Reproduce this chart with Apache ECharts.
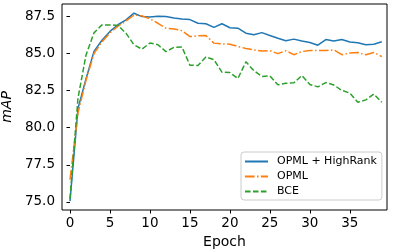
<!DOCTYPE html>
<html>
<head>
<meta charset="utf-8">
<script src="https://cdn.jsdelivr.net/npm/echarts@6/dist/echarts.min.js"></script>
<style>html,body{margin:0;padding:0;background:#fff;}#c{width:393px;height:251px;}</style>
</head>
<body>
<div id="c"></div>
<script>
const epochs = [0,1,2,3,4,5,6,7,8,9,10,11,12,13,14,15,16,17,18,19,20,21,22,23,24,25,26,27,28,29,30,31,32,33,34,35,36,37,38,39];
const highRank = [75.05,81.3,83.3,85.15,85.9,86.5,86.95,87.28,87.73,87.5,87.48,87.52,87.5,87.4,87.34,87.3,87.05,87.02,86.77,87.02,86.75,86.72,86.38,86.27,86.42,86.22,86.04,85.87,85.98,85.85,85.75,85.57,85.95,85.85,85.95,85.78,85.73,85.6,85.63,85.8];
const opml = [76.5,81.0,83.2,85.0,85.8,86.4,86.85,87.2,87.6,87.55,87.35,87.05,86.72,86.67,86.55,86.15,86.2,86.22,85.71,85.66,85.64,85.48,85.35,85.25,85.18,85.2,85.0,85.2,84.93,85.14,85.22,85.21,85.21,85.25,84.93,85.04,85.08,84.92,85.08,84.8];
const bce = [75.2,82.0,84.9,86.4,86.94,86.94,86.9,86.38,85.6,85.3,85.72,85.6,85.14,85.42,85.45,84.22,84.2,84.78,84.6,83.75,83.72,83.32,84.45,83.85,83.46,83.5,82.9,83.0,83.03,83.52,82.92,82.76,83.05,82.88,82.52,82.34,81.72,81.88,82.27,81.72];
const yTicks = [75, 77.5, 80, 82.5, 85, 87.5];
const xTicks = [0, 5, 10, 15, 20, 25, 30, 35];
const seriesNames = ['OPML + HighRank', 'OPML', 'BCE'];

const font = 'DejaVu Sans';
const chart = echarts.init(document.getElementById('c'), null, {renderer: 'canvas'});
const mk = (name, vals, color, type) => ({
  name: name, type: 'line', data: epochs.map((e, i) => [e, vals[i]]),
  showSymbol: false, symbol: 'none', animation: false,
  lineStyle: {color: color, width: 1.5, type: type, cap: 'butt'},
  itemStyle: {color: color}
});
chart.setOption({
  animation: false,
  backgroundColor: '#fff',
  grid: {left: 62, right: 6, top: 4, bottom: 41, outerBoundsMode: 'none', containLabel: false, show: true, borderColor: '#000', borderWidth: 1, backgroundColor: 'transparent'},
  xAxis: {
    type: 'value', min: -1, max: 39.65,
    name: 'Epoch', nameLocation: 'middle', nameGap: 24,
    nameTextStyle: {fontFamily: font, fontSize: 14, color: '#000'},
    axisLine: {show: false},
    axisTick: {show: true, length: 3.5, lineStyle: {color: '#000'}, customValues: xTicks},
    axisLabel: {fontFamily: font, fontSize: 13.5, color: '#000', margin: 6, customValues: xTicks, formatter: v => String(v)},
    splitLine: {show: false}
  },
  yAxis: {
    type: 'value', min: 74.45, max: 88.35,
    name: 'mAP', nameLocation: 'middle', nameGap: 36, nameRotate: 90,
    nameTextStyle: {fontFamily: font, fontSize: 14, color: '#000', fontStyle: 'italic'},
    axisLine: {show: false},
    axisTick: {show: true, length: 3.5, lineStyle: {color: '#000'}, customValues: yTicks},
    axisLabel: {fontFamily: font, fontSize: 13.5, color: '#000', margin: 7, customValues: yTicks, formatter: v => v.toFixed(1)},
    splitLine: {show: false}
  },
  legend: {
    orient: 'vertical', left: 241, top: 152,
    padding: [4, 5, 3, 3], itemWidth: 23, itemHeight: 12, itemGap: 4,
    borderColor: '#ccc', borderWidth: 1, borderRadius: 3,
    backgroundColor: 'rgba(255,255,255,0.8)',
    itemStyle: {opacity: 0},
    textStyle: {fontFamily: font, fontSize: 11, color: '#000', padding: [0, 0, 0, 4]},
    data: seriesNames
  },
  series: [
    mk(seriesNames[0], highRank, '#1f77b4', 'solid'),
    mk(seriesNames[1], opml, '#ff7f0e', [9.6, 2.4, 1.5, 2.4]),
    mk(seriesNames[2], bce, '#2ca02c', [5.55, 2.4])
  ]
});
</script>
</body>
</html>
